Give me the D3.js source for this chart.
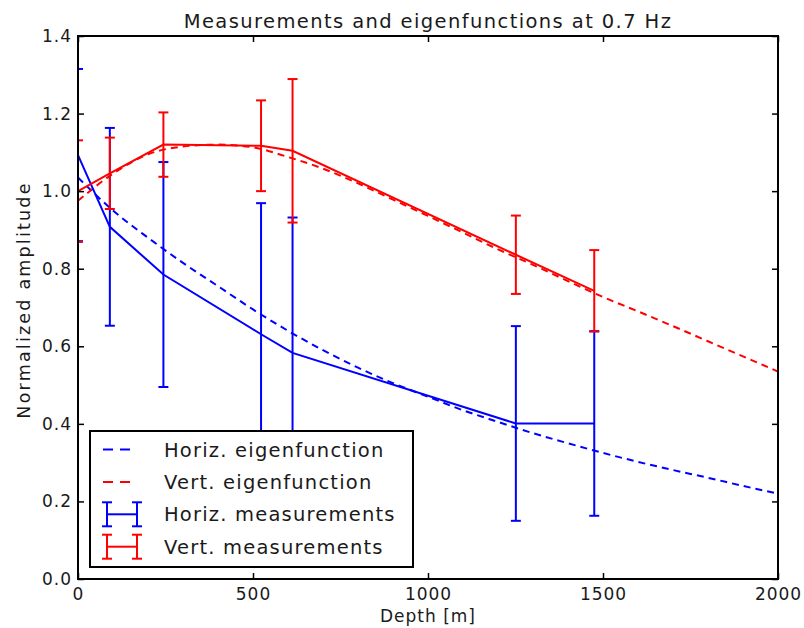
<!DOCTYPE html>
<html>
<head>
<meta charset="utf-8">
<script src="https://cdn.jsdelivr.net/npm/d3@7"></script>
<style>
  body { margin: 0; background: #fff; }
  text { font-family: "DejaVu Sans", sans-serif; fill: #1a1a1a; }
</style>
</head>
<body>
<svg id="chart" width="804" height="628"></svg>
<script>
var eigDepth = [0, 100, 200, 300, 400, 500, 600, 700, 800, 900, 1000,
                1100, 1200, 1300, 1400, 1500, 1600, 1700, 1800, 1900, 2000];
var horizEig = [1.035, 0.95, 0.88, 0.815, 0.755, 0.695, 0.64, 0.59, 0.545, 0.505, 0.47,
                0.435, 0.405, 0.376, 0.35, 0.325, 0.302, 0.281, 0.261, 0.24, 0.22];
var vertEig  = [0.975, 1.045, 1.095, 1.115, 1.12, 1.113, 1.088, 1.058, 1.02, 0.978, 0.936,
                0.893, 0.85, 0.81, 0.768, 0.727, 0.69, 0.652, 0.613, 0.574, 0.535];

// measurements with error bars
var measDepth  = [0, 91, 244, 523, 613, 1251, 1475];
var horizMeas  = [1.093, 0.908, 0.785, 0.631, 0.583, 0.401, 0.401];
var horizErr   = [0.222, 0.255, 0.29, 0.338, 0.349, 0.251, 0.238];
var vertMeas   = [1.0, 1.046, 1.12, 1.117, 1.104, 0.836, 0.743];
var vertErr    = [0.131, 0.092, 0.083, 0.117, 0.185, 0.101, 0.105];

var xTicks = [0, 500, 1000, 1500, 2000];
var yTicks = [0.0, 0.2, 0.4, 0.6, 0.8, 1.0, 1.2, 1.4];

var mLeft = 78, mRight = 778, mTop = 36, mBottom = 579;

var svg = d3.select('#chart');

var x = d3.scaleLinear().domain([0, 2000]).range([mLeft, mRight]);
var y = d3.scaleLinear().domain([0, 1.4]).range([mBottom, mTop]);

svg.append('defs').append('clipPath').attr('id', 'clip')
   .append('rect')
   .attr('x', mLeft).attr('y', mTop)
   .attr('width', mRight - mLeft).attr('height', mBottom - mTop);

var plot = svg.append('g').attr('clip-path', 'url(#clip)');

var line = d3.line()
    .x(function(d) { return x(d[0]); })
    .y(function(d) { return y(d[1]); });

function drawEig(vals, color) {
   plot.append('path')
      .datum(eigDepth.map(function(d, i) { return [d, vals[i]]; }))
      .attr('d', d3.line().curve(d3.curveMonotoneX)
         .x(function(d) { return x(d[0]); })
         .y(function(d) { return y(d[1]); }))
      .attr('fill', 'none')
      .attr('stroke', color)
      .attr('stroke-width', 2)
      .attr('stroke-dasharray', '7,5');
}

function drawMeas(vals, errs, color) {
   plot.append('path')
      .datum(measDepth.map(function(d, i) { return [d, vals[i]]; }))
      .attr('d', line)
      .attr('fill', 'none')
      .attr('stroke', color)
      .attr('stroke-width', 2);

   var g = plot.append('g').attr('stroke', color).attr('stroke-width', 2);
   measDepth.forEach(function(d, i) {
      var lo = y(vals[i] - errs[i]), hi = y(vals[i] + errs[i]), cx = x(d);
      g.append('line').attr('x1', cx).attr('x2', cx).attr('y1', lo).attr('y2', hi);
      g.append('line').attr('x1', cx - 5).attr('x2', cx + 5).attr('y1', lo).attr('y2', lo);
      g.append('line').attr('x1', cx - 5).attr('x2', cx + 5).attr('y1', hi).attr('y2', hi);
   });
}

drawEig(horizEig, '#0000ff');
drawEig(vertEig, '#ff0000');
drawMeas(horizMeas, horizErr, '#0000ff');
drawMeas(vertMeas, vertErr, '#ff0000');

// axes, ticks inside on all four sides
var ax = svg.append('g');
ax.append('g').attr('transform', 'translate(0,' + mBottom + ')')
  .call(d3.axisBottom(x).tickValues(xTicks).tickSizeInner(-6).tickSizeOuter(0).tickPadding(9).tickFormat(d3.format('d')));
ax.append('g').attr('transform', 'translate(0,' + mTop + ')')
  .call(d3.axisTop(x).tickValues(xTicks).tickSizeInner(-6).tickSizeOuter(0).tickFormat(''));
ax.append('g').attr('transform', 'translate(' + mLeft + ',0)')
  .call(d3.axisLeft(y).tickValues(yTicks).tickSizeInner(-6).tickSizeOuter(0).tickPadding(6).tickFormat(d3.format('.1f')));
ax.append('g').attr('transform', 'translate(' + mRight + ',0)')
  .call(d3.axisRight(y).tickValues(yTicks).tickSizeInner(-6).tickSizeOuter(0).tickFormat(''));
ax.selectAll('.domain').remove();
ax.selectAll('.tick line').attr('stroke', '#000').attr('stroke-width', 1.5);
ax.selectAll('.tick text')
  .style('font-size', '17px')
  .style('letter-spacing', '1px')
  .style('font-family', '"DejaVu Sans", sans-serif')
  .attr('fill', '#333');

svg.append('rect')
   .attr('x', mLeft).attr('y', mTop)
   .attr('width', mRight - mLeft).attr('height', mBottom - mTop)
   .attr('fill', 'none').attr('stroke', '#000').attr('stroke-width', 2);

svg.append('text')
   .attr('x', (mLeft + mRight) / 2).attr('y', 28)
   .attr('text-anchor', 'middle')
   .style('font-size', '19.5px')
   .style('letter-spacing', '1.4px')
   .text('Measurements and eigenfunctions at 0.7 Hz');

svg.append('text')
   .attr('x', (mLeft + mRight) / 2).attr('y', 622)
   .attr('text-anchor', 'middle')
   .style('font-size', '17px')
   .style('letter-spacing', '1px')
   .attr('fill', '#333')
   .text('Depth [m]');

svg.append('text')
   .attr('transform', 'translate(30,300) rotate(-90)')
   .attr('text-anchor', 'middle')
   .style('font-size', '17.5px')
   .style('letter-spacing', '2.2px')
   .attr('fill', '#333')
   .text('Normalized amplitude');

// legend
var legItems = [
   { label: 'Horiz. eigenfunction', color: '#0000ff', kind: 'dash' },
   { label: 'Vert. eigenfunction', color: '#ff0000', kind: 'dash' },
   { label: 'Horiz. measurements', color: '#0000ff', kind: 'err' },
   { label: 'Vert. measurements', color: '#ff0000', kind: 'err' }
];
var leg = svg.append('g');
leg.append('rect')
   .attr('x', 90).attr('y', 431).attr('width', 323).attr('height', 136)
   .attr('fill', '#fff').attr('stroke', '#000').attr('stroke-width', 2);
legItems.forEach(function(d, i) {
   var cy = 449.5 + i * 32.4;
   if (d.kind === 'dash') {
      leg.append('line').attr('x1', 103).attr('x2', 137).attr('y1', cy).attr('y2', cy)
         .attr('stroke', d.color).attr('stroke-width', 2).attr('stroke-dasharray', '10,7');
   } else {
      var g = leg.append('g').attr('stroke', d.color).attr('stroke-width', 2);
      g.append('line').attr('x1', 107).attr('x2', 137).attr('y1', cy).attr('y2', cy);
      g.append('line').attr('x1', 107).attr('x2', 107).attr('y1', cy - 12).attr('y2', cy + 12);
      g.append('line').attr('x1', 137).attr('x2', 137).attr('y1', cy - 12).attr('y2', cy + 12);
      [107, 137].forEach(function(cx) {
         g.append('line').attr('x1', cx - 5).attr('x2', cx + 5).attr('y1', cy - 12).attr('y2', cy - 12);
         g.append('line').attr('x1', cx - 5).attr('x2', cx + 5).attr('y1', cy + 12).attr('y2', cy + 12);
      });
   }
   leg.append('text').attr('x', 164).attr('y', cy + 7)
      .style('font-size', '19.5px')
      .style('letter-spacing', '1.2px')
      .text(d.label);
});
</script>
</body>
</html>
